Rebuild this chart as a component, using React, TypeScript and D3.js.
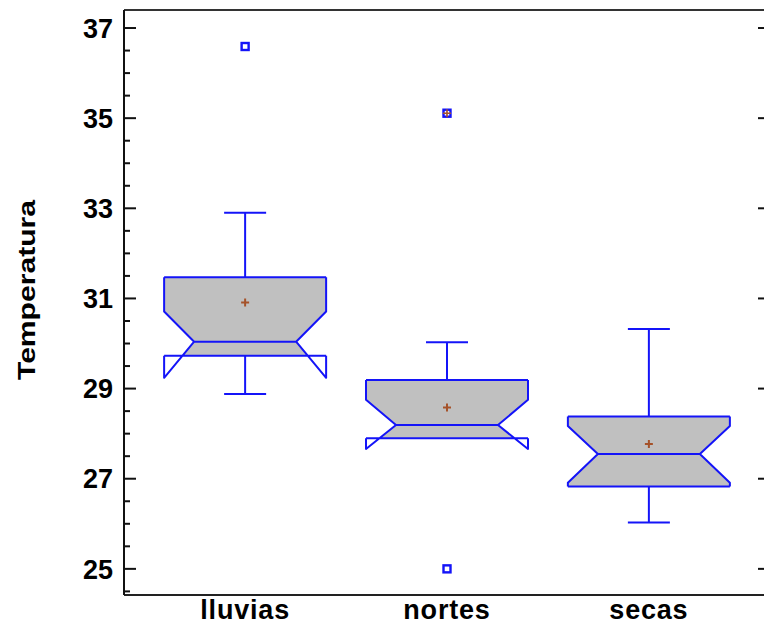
import { useEffect, useRef } from 'react';
import * as d3 from 'd3';

// season groups and box statistics (Temperatura)
const categories = ['lluvias', 'nortes', 'secas'];
const q1 = [29.73, 27.9, 26.83];
const medians = [30.04, 28.19, 27.55];
const q3 = [31.47, 29.19, 28.38];
const notchLo = [29.24, 27.66, 26.91];
const notchHi = [30.71, 28.75, 28.17];
const whiskerLo = [28.88, 27.9, 26.03];
const whiskerHi = [32.9, 30.03, 30.32];
const means = [30.91, 28.58, 27.77];
const outlierCats = ['lluvias', 'nortes', 'nortes'];
const outlierValues = [36.59, 35.11, 25.0];
const outlierFar = [false, true, false];
const yTicks = [25, 27, 29, 31, 33, 35, 37];

function App() {
  const svgRef = useRef<SVGSVGElement>(null);

  useEffect(() => {
    const W = 764;
    const H = 627;
    const svg = d3.select(svgRef.current).attr('width', W).attr('height', H);
    svg.selectAll('*').remove();

    // the plot's right edge lies just past the picture, so only its ticks show
    const left = 124, top = 10, right = 770, bottom = 595;
    const blue = '#1414f8';
    const brown = '#a5522a';
    const font = 'Liberation Sans, Arial, sans-serif';

    const y = d3.scaleLinear().domain([24.42, 37.4]).range([bottom, top]);
    const x = d3.scalePoint().domain(categories).range([left, right]).padding(0.6);

    const halfBox = 81;
    const notchIn = 30;
    const halfCap = 21;

    const defs = svg.append('defs');

    // frame
    svg.append('line').attr('x1', left).attr('x2', W).attr('y1', top).attr('y2', top)
      .attr('stroke', '#333').attr('stroke-width', 2);
    svg.append('line').attr('x1', left).attr('x2', W).attr('y1', bottom).attr('y2', bottom)
      .attr('stroke', '#222').attr('stroke-width', 2);
    svg.append('line').attr('x1', left).attr('x2', left).attr('y1', top).attr('y2', bottom)
      .attr('stroke', '#111').attr('stroke-width', 2);

    // left ticks: minor every 0.5, major every 2
    const minor = d3.range(24.5, 37.01, 0.5);
    svg.append('g').selectAll('line').data(minor).join('line')
      .attr('x1', left).attr('x2', d => (yTicks.includes(d) ? left + 12 : left + 6))
      .attr('y1', d => y(d)).attr('y2', d => y(d))
      .attr('stroke', '#111').attr('stroke-width', 2);
    // right ticks, major only
    svg.append('g').selectAll('line').data(yTicks).join('line')
      .attr('x1', right - 12).attr('x2', W)
      .attr('y1', d => y(d)).attr('y2', d => y(d))
      .attr('stroke', '#111').attr('stroke-width', 2);

    svg.append('g').selectAll('text').data(yTicks).join('text')
      .attr('x', left - 11).attr('y', d => y(d)).attr('dy', '0.36em')
      .attr('text-anchor', 'end')
      .style('font-family', font).style('font-weight', 'bold').style('font-size', '27px')
      .text(d => d);

    svg.append('g').selectAll('text').data(categories).join('text')
      .attr('x', d => x(d)!).attr('y', 619)
      .attr('text-anchor', 'middle')
      .style('font-family', font).style('font-weight', 'bold').style('font-size', '27px')
      .style('letter-spacing', '0.8px')
      .text(d => d);

    svg.append('text')
      .attr('transform', 'translate(35,290) rotate(-90)')
      .attr('text-anchor', 'middle')
      .style('font-family', font).style('font-weight', 'bold').style('font-size', '24px')
      .attr('textLength', 180).attr('lengthAdjust', 'spacingAndGlyphs')
      .text('Temperatura');

    categories.forEach((c, i) => {
      const cx = x(c)!;
      const L = cx - halfBox, R = cx + halfBox;
      const Li = L + notchIn, Ri = R - notchIn;
      const yq1 = y(q1[i]), yq3 = y(q3[i]), ym = y(medians[i]);
      const ynl = y(notchLo[i]), ynh = y(notchHi[i]);
      const g = svg.append('g');

      // whiskers
      g.append('line').attr('x1', cx).attr('x2', cx).attr('y1', yq3).attr('y2', y(whiskerHi[i]))
        .attr('stroke', blue).attr('stroke-width', 2);
      g.append('line').attr('x1', cx - halfCap).attr('x2', cx + halfCap)
        .attr('y1', y(whiskerHi[i])).attr('y2', y(whiskerHi[i]))
        .attr('stroke', blue).attr('stroke-width', 2);
      if (whiskerLo[i] < q1[i]) {
        g.append('line').attr('x1', cx).attr('x2', cx).attr('y1', yq1).attr('y2', y(whiskerLo[i]))
          .attr('stroke', blue).attr('stroke-width', 2);
        g.append('line').attr('x1', cx - halfCap).attr('x2', cx + halfCap)
          .attr('y1', y(whiskerLo[i])).attr('y2', y(whiskerLo[i]))
          .attr('stroke', blue).attr('stroke-width', 2);
      }

      // gray fill, clipped to the Q1..Q3 range
      const clipId = 'clip-' + i;
      defs.append('clipPath').attr('id', clipId).append('rect')
        .attr('x', L - 2).attr('width', R - L + 4).attr('y', yq3).attr('height', yq1 - yq3);
      const fillPts: [number, number][] = [
        [L, yq3 - 40], [R, yq3 - 40], [R, ynh], [Ri, ym], [R, ynl], [R, yq1 + 40],
        [L, yq1 + 40], [L, ynl], [Li, ym], [L, ynh],
      ];
      g.append('path').attr('d', d3.line()(fillPts) + 'Z')
        .attr('fill', '#c0c0c0').attr('clip-path', `url(#${clipId})`);

      // notch outline
      const sides = d3.path();
      [[L, Li], [R, Ri]].forEach(([o, n]) => {
        sides.moveTo(o, yq3); sides.lineTo(o, ynh); sides.lineTo(n, ym);
        sides.lineTo(o, ynl); sides.lineTo(o, yq1);
      });
      sides.moveTo(L, yq3); sides.lineTo(R, yq3);
      sides.moveTo(L, yq1); sides.lineTo(R, yq1);
      sides.moveTo(Li, ym); sides.lineTo(Ri, ym);
      g.append('path').attr('d', sides.toString()).attr('fill', 'none')
        .attr('stroke', blue).attr('stroke-width', 2).attr('stroke-linejoin', 'round');

      // mean
      const my = y(means[i]);
      g.append('path').attr('d', `M${cx - 4},${my}H${cx + 4}M${cx},${my - 4}V${my + 4}`)
        .attr('stroke', brown).attr('stroke-width', 2);
    });

    // outliers
    outlierValues.forEach((v, i) => {
      const cx = x(outlierCats[i])!;
      const cy = y(v);
      svg.append('rect').attr('x', cx - 3.5).attr('y', cy - 3.5).attr('width', 7).attr('height', 7)
        .attr('fill', 'white').attr('stroke', blue).attr('stroke-width', 2.4);
      if (outlierFar[i]) {
        svg.append('path').attr('d', `M${cx - 4},${cy}H${cx + 4}M${cx},${cy - 4}V${cy + 4}`)
          .attr('stroke', brown).attr('stroke-width', 1.6);
      }
    });
  }, []);

  return (
    <div style={{ position: 'absolute', left: 0, top: 0, width: 764, height: 627, overflow: 'hidden' }}>
      <svg ref={svgRef} style={{ display: 'block', background: 'white' }}></svg>
    </div>
  );
}

export default App;
